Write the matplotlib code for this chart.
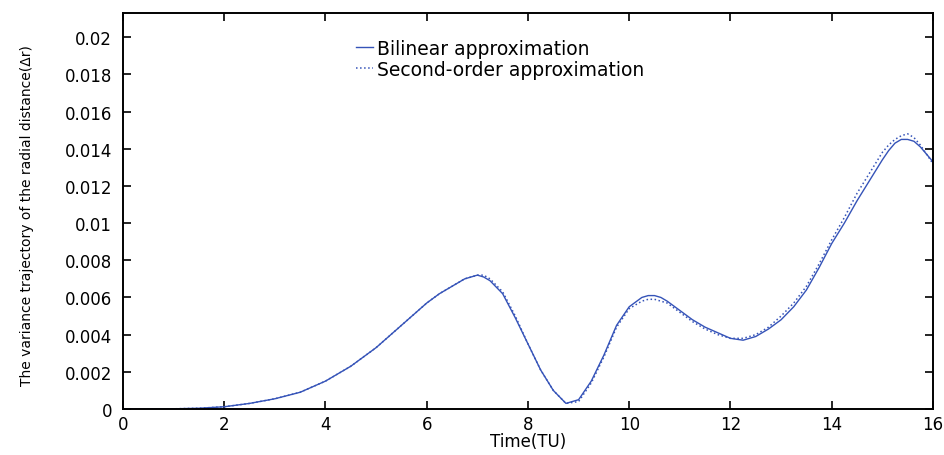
import numpy as np
import matplotlib
matplotlib.use('Agg')
import matplotlib.pyplot as plt

# time axis (TU) and the two variance curves
t = [0, 0.5, 1, 1.5, 2, 2.5, 3, 3.5, 4, 4.5, 5, 5.25, 5.5, 5.75, 6, 6.25, 6.5,
     6.75, 6.875, 7, 7.125, 7.25, 7.5, 7.75, 8, 8.25, 8.5, 8.75, 9, 9.25,
     9.5, 9.75, 10, 10.25, 10.375, 10.5, 10.625, 10.75, 11, 11.25, 11.5,
     11.75, 12, 12.25, 12.5, 12.75, 13, 13.25, 13.5, 13.75, 14, 14.25, 14.5,
     14.75, 15, 15.125, 15.25, 15.375, 15.5, 15.625, 15.75, 15.875, 16]

bilinear = [0, 0.0, 0.00001, 0.00004, 0.00012, 0.0003, 0.00055, 0.0009,
            0.0015, 0.0023, 0.0033, 0.0039, 0.0045, 0.0051, 0.0057, 0.0062,
            0.0066, 0.0070, 0.0071, 0.0072, 0.0071, 0.0069, 0.0062, 0.0049,
            0.0035, 0.0021, 0.0010, 0.0003, 0.0005, 0.0015, 0.0029, 0.0045,
            0.0055, 0.0060, 0.0061, 0.0061, 0.0060, 0.0058, 0.0053, 0.0048,
            0.0044, 0.0041, 0.0038, 0.0037, 0.0039, 0.0043, 0.0048, 0.0055,
            0.0064, 0.0076, 0.0089, 0.0100, 0.0112, 0.0123, 0.0134, 0.0139,
            0.0143, 0.0145, 0.0145, 0.0144, 0.0141, 0.0137, 0.0133]

second_order = [0, 0.0, 0.00001, 0.00004, 0.00012, 0.0003, 0.00055, 0.0009,
                0.0015, 0.0023, 0.0033, 0.0039, 0.0045, 0.0051, 0.0057, 0.0062,
                0.0066, 0.0070, 0.0071, 0.0072, 0.0072, 0.0070, 0.0063, 0.0050,
                0.0035, 0.0021, 0.0010, 0.0003, 0.0004, 0.0014, 0.0028, 0.0044,
                0.0054, 0.0058, 0.0059, 0.0059, 0.0058, 0.0057, 0.0052, 0.0047,
                0.0043, 0.0040, 0.0038, 0.0038, 0.0040, 0.0044, 0.0050, 0.0057,
                0.0066, 0.0078, 0.0091, 0.0103, 0.0116, 0.0127, 0.0138, 0.0142,
                0.0145, 0.0147, 0.0148, 0.0146, 0.0142, 0.0137, 0.0132]

xticks = np.arange(0, 17, 2)
yticks = [0, 0.002, 0.004, 0.006, 0.008, 0.01, 0.012, 0.014, 0.016, 0.018, 0.02]
ytick_labels = ['0', '0.002', '0.004', '0.006', '0.008', '0.01', '0.012',
                '0.014', '0.016', '0.018', '0.02']

plt.rcParams['font.family'] = 'DejaVu Sans'
blue = '#3553b8'

fig = plt.figure(figsize=(9.44, 4.56), dpi=100)
ax = fig.add_axes([0.1303, 0.1009, 0.858, 0.8684])

ax.plot(t, bilinear, '-', color=blue, lw=1.0, label='Bilinear approximation')
ax.plot(t, second_order, ':', color=blue, lw=1.1,
        label='Second-order approximation')

ax.set_xlim(0, 16)
ax.set_ylim(0, 0.0213)
ax.set_xticks(xticks)
ax.set_yticks(yticks)
ax.set_yticklabels(ytick_labels)
ax.tick_params(direction='in', length=6, width=1.2, top=True, right=True,
               labelsize=12, colors='black')
ax.tick_params(axis='y', pad=8)
ax.tick_params(axis='x', pad=4)
for s in ax.spines.values():
    s.set_linewidth(1.4)

ax.set_xlabel('Time(TU)', fontsize=12)
ax.xaxis.set_label_coords(0.5, -0.058)
ax.set_ylabel('The variance trajectory of the radial distance(\u0394r)',
              fontsize=10)
ax.yaxis.set_label_coords(-0.11, 0.49)

ax.legend(loc='upper left', bbox_to_anchor=(0.272, 0.968), frameon=False,
          fontsize=13.5, handlelength=0.9, handletextpad=0.2,
          labelspacing=0.1, borderpad=0.2)

fig.savefig('out.png', dpi=100)
